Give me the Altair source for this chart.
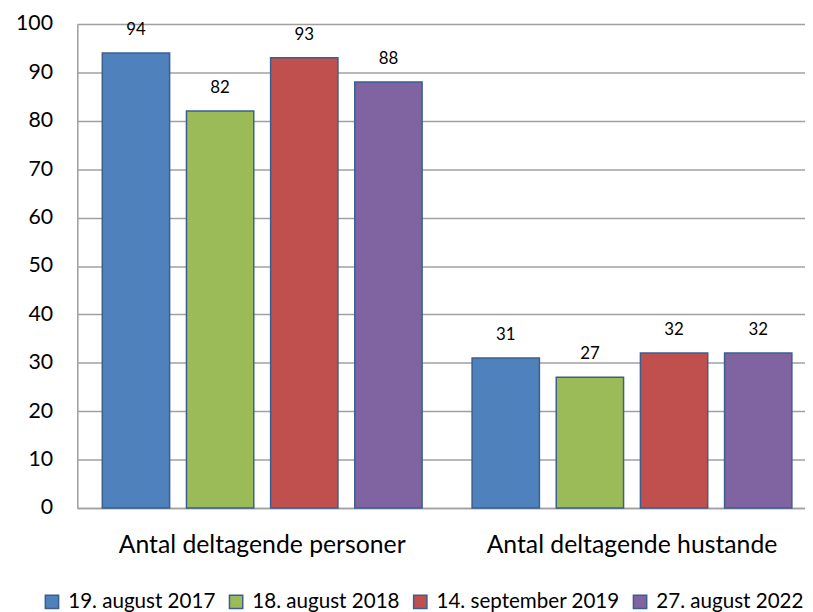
import altair as alt
import pandas as pd

categories = ["Antal deltagende personer", "Antal deltagende hustande"]
series = ["19. august 2017", "18. august 2018", "14. september 2019", "27. august 2022"]
values = {
    "19. august 2017": [94, 31],
    "18. august 2018": [82, 27],
    "14. september 2019": [93, 32],
    "27. august 2022": [88, 32],
}
colors = ["#4F81BD", "#9BBB59", "#C0504D", "#8064A2"]
y_ticks = list(range(0, 101, 10))

rows = []
for s in series:
    for c, v in zip(categories, values[s]):
        rows.append({"category": c, "series": s, "value": v})
df = pd.DataFrame(rows)

FONT = "Lato"

x = alt.X("category:N", sort=categories,
          scale=alt.Scale(range=[0, 747], paddingInner=0, paddingOuter=0),
          axis=alt.Axis(title=None, labelAngle=0, labelFontSize=25, labelFont=FONT,
                        labelColor="#000000", labelPadding=25, ticks=False, labelLimit=500,
                        domainColor="#A0A0A0", domainWidth=1.5, grid=False))
xo = alt.XOffset("series:N", sort=series,
                 scale=alt.Scale(paddingInner=0.2, paddingOuter=0.297))
y = alt.Y("value:Q", scale=alt.Scale(domain=[0, 100], nice=False),
          axis=alt.Axis(title=None, values=y_ticks, labelFontSize=21.5, labelFont=FONT,
                        labelColor="#000000", labelPadding=25, ticks=False,
                        domainColor="#A0A0A0", domainWidth=1.5,
                        gridColor="#A0A0A0", gridWidth=1.5))

bars = alt.Chart(df).mark_bar(stroke="#3A5F8E", strokeWidth=1.5).encode(
    x=x, xOffset=xo, y=y,
    color=alt.Color("series:N", sort=series,
                    scale=alt.Scale(domain=series, range=colors),
                    legend=alt.Legend(title=None, orient="none", direction="horizontal",
                                      columns=4, legendX=-36, legendY=573,
                                      symbolType="square", symbolSize=180,
                                      symbolStrokeColor="#3A5F8E", symbolStrokeWidth=1.5,
                                      symbolOpacity=1,
                                      labelFontSize=20.8, labelFont=FONT, labelColor="#000000",
                                      labelOffset=6, columnPadding=10, labelLimit=400)),
)

labels = alt.Chart(df).mark_text(baseline="bottom", dy=-14, fontSize=17, font=FONT,
                                 color="#000000").encode(
    x=x, xOffset=xo, y=y, text="value:Q"
)

chart = (bars + labels).properties(
    width=735, height=489,
    autosize=alt.AutoSizeParams(type="none"),
    padding={"left": 70, "top": 13, "right": 0, "bottom": 106},
).configure_view(stroke=None).configure(background="#FFFFFF")

chart.save("out.html", embed_options={"renderer": "svg", "actions": False})
